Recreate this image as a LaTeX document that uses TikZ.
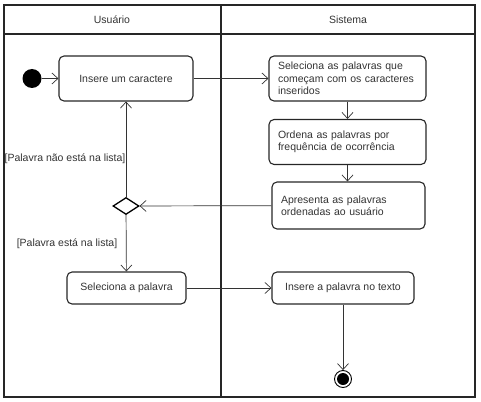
\documentclass[tikz,border=0pt]{standalone}
\usepackage{fontspec}
\setmainfont{Liberation Sans}
\usetikzlibrary{arrows.meta,shapes.geometric}
\begin{document}
\begin{tikzpicture}[x=1pt,y=-1pt,
  font=\fontsize{10.5}{12.5}\selectfont, text=black!80,
  frame/.style={draw=black!85, line width=1.4pt},
  act/.style={draw=black!85, line width=1.1pt, rounded corners=5pt, inner sep=0pt},
  actl/.style={act, align=left},
  flow/.style={draw=black!80, line width=0.7pt, -{Straight Barb[length=6pt,width=11pt,line width=0.7pt]}},
  guard/.style={inner sep=1pt},
  hdr/.style={inner sep=0pt}]
\useasboundingbox (0,0) rectangle (481,401);
% frame and lanes
\draw[frame] (4,5) rectangle (475,397);
\draw[frame] (4,34) -- (475,34);
\draw[frame] (221,5) -- (221,397);
\node[hdr] (hu) at (112,20) {Usuário};
\node[hdr] (hs) at (348,20) {Sistema};
% nodes
\node[circle, fill=black, minimum size=19pt, inner sep=0pt] (start) at (32,78.5) {};
\node[act, minimum width=134pt, minimum height=45pt] (a) at (126,78.5) {Insere um caractere};
\node[actl, minimum width=157pt, minimum height=45pt, text width=139pt] (b) at (347.5,78.5) {Seleciona as palavras que\\começam com os caracteres\\inseridos};
\node[actl, minimum width=157pt, minimum height=45pt, text width=139pt] (c) at (347.5,142) {Ordena as palavras por\\frequência de ocorrência};
\node[actl, minimum width=153pt, minimum height=47pt, text width=135pt] (d) at (348.5,205.5) {Apresenta as palavras\\ordenadas ao usuário};
\node[diamond, draw=black, line width=1.3pt, minimum width=26pt, minimum height=17pt, inner sep=0pt, aspect=1.6] (dec) at (126,206) {};
\node[act, minimum width=119pt, minimum height=32pt] (e) at (126.5,288) {Seleciona a palavra};
\node[act, minimum width=142pt, minimum height=32pt] (f) at (343,288) {Insere a palavra no texto};
\node[circle, draw=black, line width=0.9pt, minimum size=17pt, inner sep=0pt] (end) at (343,379) {};
\fill[black] (end.center) circle (6pt);
% guards
\node[guard] (g1) at (65,159) {[Palavra não está na lista]};
\node[guard] (g2) at (67,244) {[Palavra está na lista]};
% flows
\draw[flow] (start) -- (a);
\draw[flow] (a) -- (b);
\draw[flow] (b) -- (c);
\draw[flow] (c.south) -- (c.south |- d.north);
\draw[flow] (d) -- (dec);
\draw[flow] (dec) -- (a);
\draw[flow] (dec) -- (e);
\draw[flow] (e) -- (f);
\draw[flow] (f) -- (end);
\end{tikzpicture}
\end{document}
